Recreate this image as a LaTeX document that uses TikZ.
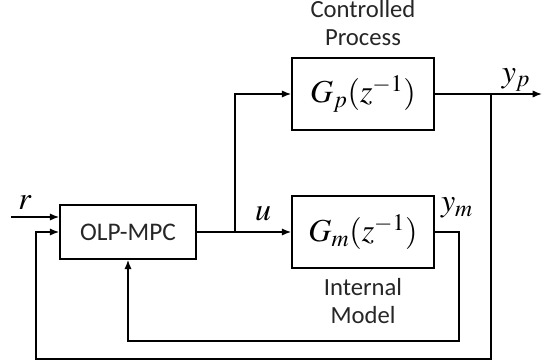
\documentclass[tikz,border=0pt]{standalone}
\usepackage{mathptmx}
\usepackage{fontspec}
\setmainfont{Carlito}
\usepackage{amsmath}
\usetikzlibrary{arrows.meta,positioning}

\begin{document}
\begin{tikzpicture}[x=0.75pt, y=-0.75pt,
    blk/.style={draw, line width=1.2pt, inner sep=0pt},
    sig/.style={line width=1.2pt, -{Latex[length=7pt,width=5.5pt]}},
    wire/.style={line width=1.2pt},
    txt/.style={font=\fontsize{18.5}{21}\selectfont, align=center, text=black!85},
    lbl/.style={font=\fontsize{24}{26}\selectfont, inner sep=0pt}]

\useasboundingbox (0,0) rectangle (543,364);

% -------- blocks -----------
\node[blk, minimum width=102pt, minimum height=40.5pt, font=\fontsize{19}{20}\selectfont] (mpc) at (128,232) {\textcolor{black!85}{OLP-MPC}};
\node[blk, minimum width=106.5pt, minimum height=54pt, font=\fontsize{24}{30}\selectfont] (gp) at (363,94) {$G_{p}(z^{-1})$};
\node[blk, minimum width=106.5pt, minimum height=54pt, font=\fontsize{24}{30}\selectfont] (gm) at (363,232) {$G_{m}(z^{-1})$};

\node[txt] (proc) at (363,23) {Controlled\\Process};
\node[txt] (intm) at (363,301) {Internal\\Model};

% -------- points -----------
\coordinate (rin)  at (11,217);
\coordinate (ujn)  at (235,232);
\coordinate (ypj)  at (491,94);
\coordinate (yout) at (542,94);
\coordinate (fb1)  at (36,359);
\coordinate (fb2)  at (459,341);

% -------- signals -----------
\draw[sig]  (rin) -- (rin -| mpc.west);
\draw[wire] (mpc.east) -- (ujn);
\draw[sig]  (ujn) -- (gm.west);
\draw[sig]  (ujn) |- (gp.west);
\draw[sig]  (gp.east) -- (yout);
\draw[sig]  (ypj) |- (fb1) |- (mpc.west);
\draw[sig]  (gm.east) -| (fb2) -| (mpc.south);

\node[lbl] (rlab)  at (25,203) {$r$};
\node[lbl] (ulab)  at (263,214) {$u$};
\node[lbl] (ymlab) at (457,208) {$y_{m}$};
\node[lbl] (yplab) at (516,80) {$y_{p}$};

\end{tikzpicture}
\end{document}
